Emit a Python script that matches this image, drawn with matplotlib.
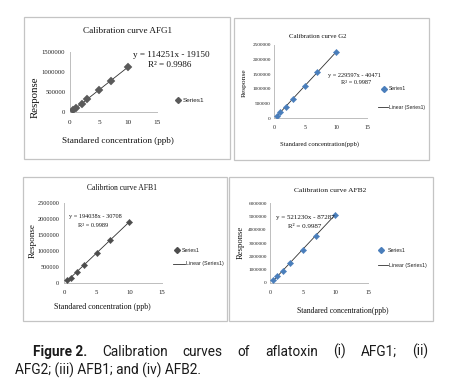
import matplotlib
matplotlib.use("Agg")
import matplotlib.pyplot as plt
from matplotlib.patches import Rectangle
from matplotlib.lines import Line2D
import numpy as np

# ---------------- data ----------------
conc = [0.5, 1, 2, 3, 5, 7, 10]
afg1_resp = [40000, 95000, 200000, 330000, 550000, 785000, 1120000]
g2_resp = [85000, 195000, 380000, 640000, 1080000, 1560000, 2250000]
afb1_resp = [80000, 170000, 330000, 560000, 930000, 1330000, 1920000]
afb2_resp = [250000, 520000, 900000, 1520000, 2500000, 3540000, 5110000]

slopes = [114251, 229597, 194038, 521230]
intercepts = [-19150, -40471, -30708, -87287]
r2_values = ["0.9986", "0.9987", "0.9989", "0.9987"]
titles = ["Calibration curve AFG1", "Calibration curve G2",
          "Calibrtion curve AFB1", "Calibration curve AFB2"]
xlabels = ["Standared concentration (ppb)", "Standared concentration(ppb)",
           "Standared concentration (ppb)", "Standared concentration(ppb)"]
ymaxes = [1500000, 2500000, 2500000, 6000000]
ysteps = [500000, 500000, 500000, 1000000]
xticks = [0, 5, 10, 15]

caption_bold = "Figure 2."
caption_line1 = ["Calibration", "curves", "of", "aflatoxin", "(i)", "AFG1;", "(ii)"]
caption_line2 = "AFG2; (iii) AFB1; and (iv) AFB2."

# ---------------- layout helpers ----------------
W, H = 463, 383
fig = plt.figure(figsize=(W / 100, H / 100), dpi=100)
fig.patch.set_facecolor("white")

def fx(px):
    return px / W

def fy(py):
    return 1 - py / H

SERIF = "Liberation Serif"
SANS = "Liberation Sans"
CAPFONT = "Roboto"

def panel_box(l, t, r, b):
    fig.add_artist(Rectangle((fx(l), fy(b)), (r - l) / W, (b - t) / H,
                             transform=fig.transFigure, fill=False,
                             ec="#C4C4C4", lw=0.9))

def make_axes(l, t, r, b):
    ax = fig.add_axes([fx(l), fy(b), (r - l) / W, (b - t) / H])
    ax.set_facecolor("none")
    for s in ["top", "right"]:
        ax.spines[s].set_visible(False)
    for s in ["left", "bottom"]:
        ax.spines[s].set_color("#BDBDBD")
        ax.spines[s].set_linewidth(0.7)
    return ax

panels = [
    dict(box=(24, 17, 230, 159), ax=(70, 52, 157, 112), color="#5A5A5A", ms=3.6,
         data=afg1_resp, tfs=6.6, title_xy=(128, 31), tickfs=4.8,
         xpad=6.0, ypad=3.4, eq_xy=(171, 55), r2_xy=(170, 65), eqfs=6.6,
         xl_xy=(118, 141), xlfs=6.6, yl_xy=(35, 97), ylfs=7.8,
         leg_marker=(178, 100), leg_text=183, legfs=4.6, leg_line=None),
    dict(box=(234, 18, 429, 160), ax=(274, 45, 367, 118), color="#4A7EBB", ms=3.2,
         data=g2_resp, tfs=4.9, title_xy=(318, 37), tickfs=3.8,
         xpad=5.0, ypad=2.4, eq_xy=(354, 75), r2_xy=(356, 82), eqfs=4.5,
         xl_xy=(320, 144), xlfs=4.8, yl_xy=(244, 83), ylfs=5.4,
         leg_marker=(384, 89), leg_text=389, legfs=3.6,
         leg_line=(378, 388, 107, 389)),
    dict(box=(23, 177, 227, 321), ax=(64, 203, 162, 283), color="#4D4D4D", ms=3.2,
         data=afb1_resp, tfs=5.5, title_xy=(122, 188), tickfs=4.5,
         xpad=5.0, ypad=3.4, eq_xy=(95, 216), r2_xy=(93, 225), eqfs=4.5,
         xl_xy=(102, 307), xlfs=5.8, yl_xy=(33, 240), ylfs=6.6,
         leg_marker=(177, 250), leg_text=182, legfs=3.8,
         leg_line=(173, 185, 264, 186)),
    dict(box=(229, 177, 433, 321), ax=(270, 203, 368, 283), color="#4A7EBB", ms=3.2,
         data=afb2_resp, tfs=5.4, title_xy=(330, 190), tickfs=3.8,
         xpad=5.0, ypad=2.4, eq_xy=(305, 217), r2_xy=(305, 227), eqfs=5.0,
         xl_xy=(343, 311), xlfs=5.6, yl_xy=(241, 242), ylfs=6.2,
         leg_marker=(381, 250), leg_text=388, legfs=3.8,
         leg_line=(378, 388, 265, 389)),
]

for i, p in enumerate(panels):
    panel_box(*p["box"])
    ax = make_axes(*p["ax"])
    ys = p["data"]
    ax.plot(conc, ys, linestyle="none", marker="D", markersize=p["ms"],
            color=p["color"], markeredgewidth=0.3, zorder=3)
    xs = np.array([min(conc), max(conc)])
    ax.plot(xs, slopes[i] * xs + intercepts[i], color="#303030", lw=0.6, zorder=2)
    ax.set_xlim(0, 15)
    ax.set_ylim(0, ymaxes[i])
    ax.set_xticks(xticks)
    yt = np.arange(0, ymaxes[i] + 1, ysteps[i])
    ax.set_yticks(yt)
    ax.set_yticklabels([f"{int(v)}" for v in yt])
    ax.tick_params(axis="x", length=0, pad=p["xpad"], labelsize=p["tickfs"] + 0.4)
    ax.tick_params(axis="y", length=0, pad=p["ypad"], labelsize=p["tickfs"])
    for lab in ax.get_xticklabels() + ax.get_yticklabels():
        lab.set_fontfamily(SERIF)
        lab.set_color("#222222")

    fig.text(fx(p["title_xy"][0]), fy(p["title_xy"][1]), titles[i],
             family=SERIF, fontsize=p["tfs"], ha="center", va="center", color="#111111")
    sign = "-" if intercepts[i] < 0 else "+"
    eq = f"y = {slopes[i]}x {sign} {abs(intercepts[i])}"
    fig.text(fx(p["eq_xy"][0]), fy(p["eq_xy"][1]), eq, family=SERIF,
             fontsize=p["eqfs"], ha="center", va="center", color="#111111")
    fig.text(fx(p["r2_xy"][0]), fy(p["r2_xy"][1]), f"R² = {r2_values[i]}",
             family=SERIF, fontsize=p["eqfs"], ha="center", va="center", color="#111111")
    fig.text(fx(p["xl_xy"][0]), fy(p["xl_xy"][1]), xlabels[i], family=SERIF,
             fontsize=p["xlfs"], ha="center", va="center", color="#111111")
    fig.text(fx(p["yl_xy"][0]), fy(p["yl_xy"][1]), "Response", family=SERIF,
             fontsize=p["ylfs"], ha="center", va="center", rotation=90,
             color="#111111")
    # legend
    mx, my = p["leg_marker"]
    fig.add_artist(Line2D([fx(mx)], [fy(my)], marker="D", markersize=3.0,
                          color=p["color"], linestyle="none",
                          transform=fig.transFigure))
    fig.text(fx(p["leg_text"]), fy(my), "Series1", family=SANS,
             fontsize=p["legfs"], ha="left", va="center", color="#222222")
    if p["leg_line"] is not None:
        x0, x1, ly, tx = p["leg_line"]
        fig.add_artist(Line2D([fx(x0), fx(x1)], [fy(ly), fy(ly)], color="#303030",
                              lw=0.6, transform=fig.transFigure))
        fig.text(fx(tx), fy(ly), "Linear (Series1)", family=SANS,
                 fontsize=p["legfs"], ha="left", va="center", color="#222222")

# ---------------- caption ----------------
capfs = 9.8
renderer = fig.canvas.get_renderer()
line1_left, line1_right, base1 = 33, 428, 356
words = [(caption_bold, "bold")] + [(w, "normal") for w in caption_line1]
texts = []
for w, wt in words:
    t = fig.text(0, fy(base1), w, family=CAPFONT, fontsize=capfs, fontweight=wt,
                 ha="left", va="baseline", color="#1a1a1a")
    texts.append(t)
widths = [t.get_window_extent(renderer).width for t in texts]
gap = ((line1_right - line1_left) - sum(widths)) / (len(texts) - 1)
xcur = line1_left
for t, wd in zip(texts, widths):
    t.set_x(fx(xcur))
    xcur += wd + gap
fig.text(fx(15), fy(375), caption_line2, family=CAPFONT, fontsize=capfs,
         ha="left", va="baseline", color="#1a1a1a")

fig.savefig("out.png", dpi=100, facecolor="white")
